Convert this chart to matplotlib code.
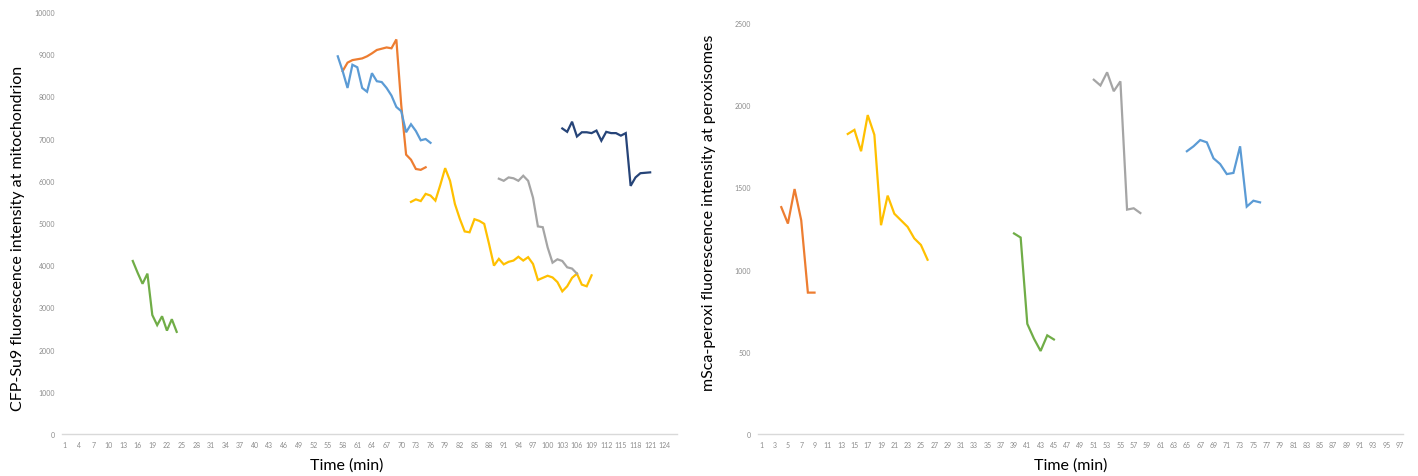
import matplotlib
matplotlib.use("Agg")
import matplotlib.pyplot as plt
import numpy as np

plt.rcParams['font.family'] = ['Lato', 'DejaVu Sans']

# left panel: CFP-Su9 at mitochondrion, minutes 1..126
mitoMinutes = 126
mitoGreenStart = 15
mitoGreen = [4100, 3820, 3560, 3800, 2820, 2580, 2790, 2450, 2720, 2420]
mitoBlueStart = 57
mitoBlue = [8950, 8600, 8200, 8750, 8690, 8200, 8110, 8550, 8360, 8340,
            8200, 8020, 7750, 7650, 7150, 7340, 7180, 6960, 6990, 6900]
mitoOrangeStart = 58
mitoOrange = [8600, 8800, 8860, 8880, 8900, 8950, 9020, 9100, 9130, 9160,
              9140, 9350, 7800, 6620, 6500, 6280, 6260, 6320]
mitoYellowStart = 72
mitoYellow = [5500, 5560, 5520, 5690, 5650, 5530, 5900, 6300, 6000, 5450,
              5100, 4800, 4780, 5090, 5050, 4980, 4500, 3990, 4150, 4020,
              4080, 4110, 4200, 4110, 4190, 4030, 3650, 3700, 3750, 3710,
              3600, 3380, 3500, 3700, 3800, 3540, 3500, 3760]
mitoGrayStart = 90
mitoGray = [6050, 6000, 6080, 6060, 6000, 6120, 6000, 5600, 4920, 4900,
            4420, 4060, 4140, 4100, 3950, 3920, 3800]
mitoNavyStart = 103
mitoNavy = [7240, 7160, 7400, 7050, 7150, 7150, 7130, 7190, 6950, 7160,
            7130, 7130, 7070, 7130, 5880, 6080, 6180, 6190, 6200]

# right panel: mSca-peroxi at peroxisomes, minutes 1..97
peroxMinutes = 97
peroxOrangeStart = 4
peroxOrange = [1380, 1280, 1490, 1300, 860, 860]
peroxYellowStart = 14
peroxYellow = [1825, 1850, 1720, 1940, 1820, 1270, 1450, 1340, 1300, 1260,
               1190, 1150, 1060]
peroxGreenStart = 39
peroxGreen = [1220, 1195, 670, 580, 505, 600, 575]
peroxGrayStart = 51
peroxGray = [2155, 2120, 2200, 2085, 2145, 1365, 1373, 1344]
peroxBlueStart = 65
peroxBlue = [1720, 1750, 1788, 1774, 1677, 1642, 1581, 1588, 1750, 1383,
             1419, 1409]

BLUE = '#5B9BD5'
ORANGE = '#ED7D31'
GRAY = '#A5A5A5'
YELLOW = '#FFC000'
GREEN = '#70AD47'
NAVY = '#264478'


def drawSeries(ax, start, values, color):
    xs = np.arange(start, start + len(values))
    ax.plot(xs, values, color=color, linewidth=1.6, solid_joinstyle='miter')


def styleAxis(ax, nMinutes, tickStep, yMax, yStep):
    ax.set_xlim(0.5, nMinutes + 0.5)
    ax.set_ylim(0, yMax)
    ticks = np.arange(1, nMinutes + 1, tickStep)
    ax.set_xticks(ticks)
    ax.set_xticklabels([str(t) for t in ticks])
    ax.set_yticks(np.arange(0, yMax + 1, yStep))
    ax.tick_params(length=0, labelsize=5, colors='#8C8C8C', pad=5)
    for side in ['top', 'right', 'left']:
        ax.spines[side].set_visible(False)
    ax.spines['bottom'].set_color('#D9D9D9')
    ax.spines['bottom'].set_linewidth(1.0)


fig = plt.figure(figsize=(14.18, 4.77), dpi=100)
W, H = 1418, 477

axL = fig.add_axes([62 / W, (H - 435) / H, 615 / W, (435 - 13) / H])
drawSeries(axL, mitoGreenStart, mitoGreen, GREEN)
drawSeries(axL, mitoOrangeStart, mitoOrange, ORANGE)
drawSeries(axL, mitoBlueStart, mitoBlue, BLUE)
drawSeries(axL, mitoYellowStart, mitoYellow, YELLOW)
drawSeries(axL, mitoGrayStart, mitoGray, GRAY)
drawSeries(axL, mitoNavyStart, mitoNavy, NAVY)
styleAxis(axL, mitoMinutes, 3, 10000, 1000)

axR = fig.add_axes([758 / W, (H - 435) / H, 645 / W, (435 - 24) / H])
drawSeries(axR, peroxOrangeStart, peroxOrange, ORANGE)
drawSeries(axR, peroxYellowStart, peroxYellow, YELLOW)
drawSeries(axR, peroxGreenStart, peroxGreen, GREEN)
drawSeries(axR, peroxGrayStart, peroxGray, GRAY)
drawSeries(axR, peroxBlueStart, peroxBlue, BLUE)
styleAxis(axR, peroxMinutes, 2, 2500, 500)

fig.text(347 / W, 1 - 466 / H, 'Time (min)', ha='center', va='center', fontsize=11.5)
fig.text(1071 / W, 1 - 466 / H, 'Time (min)', ha='center', va='center', fontsize=11.5)
fig.text(18 / W, 1 - 238 / H, 'CFP-Su9 fluorescence intensity at mitochondrion',
         rotation=90, ha='center', va='center', fontsize=11.5)
fig.text(709 / W, 1 - 213 / H, 'mSca-peroxi fluorescence intensity at peroxisomes',
         rotation=90, ha='center', va='center', fontsize=11.5)

fig.savefig('out.png', dpi=100)
